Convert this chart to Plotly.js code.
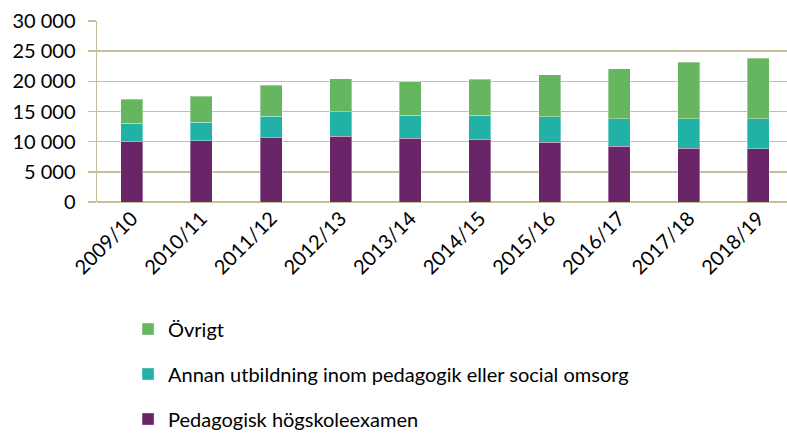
<!DOCTYPE html>
<html>
<head>
<meta charset="utf-8">
<script src="https://cdn.plot.ly/plotly-3.0.1.min.js"></script>
<style>html,body{margin:0;padding:0;background:#fff;}#chart{width:787px;height:436px;}</style>
</head>
<body>
<div id="chart"></div>
<script>
const categories = ["2009/10","2010/11","2011/12","2012/13","2013/14","2014/15","2015/16","2016/17","2017/18","2018/19"];
const pedagogisk = [10060,10180,10720,10940,10560,10280,9900,9280,8950,8790];
const annan = [2980,3080,3530,3980,3860,4140,4190,4480,4810,4970];
const ovrigt = [4030,4260,5140,5540,5540,5920,7030,8290,9400,10060];
const yTicks = [0,5000,10000,15000,20000,25000,30000];
const yTickText = ["0","5 000","10 000","15 000","20 000","25 000","30 000"];

const font = "Lato, 'Noto Sans', sans-serif";
const lineCol = "rgba(255,255,255,0.35)";
function tr(name, y, color, g, rank){
  return {type:"bar", name:name, x:categories, y:y, legendgroup:g, legendrank:rank,
    marker:{color:color, line:{color:lineCol, width:1}}, hoverinfo:"y"};
}
const data = [
  tr("Pedagogisk högskoleexamen", pedagogisk, "#692567", "a", 3),
  tr("Annan utbildning inom pedagogik eller social omsorg", annan, "#22B1A6", "b", 2),
  tr("Övrigt", ovrigt, "#66B660", "c", 1)
];
const layout = {
  width:787, height:436,
  margin:{l:97, r:0, t:21, b:234, autoexpand:false},
  barmode:"stack", bargap:0.684,
  paper_bgcolor:"#fff", plot_bgcolor:"#fff",
  font:{family:font, size:20, color:"#000"},
  xaxis:{type:"category", range:[-0.5,9.41], tickangle:-45, showgrid:false, automargin:false,
    showline:false, ticks:"", tickfont:{family:font, size:20, color:"#000"}},
  yaxis:{range:[0,30000], tickvals:yTicks, ticktext:yTickText, automargin:false,
    showgrid:true, gridcolor:"#C6BF9A", gridwidth:1.5, zeroline:true, zerolinecolor:"#C6BF9A", zerolinewidth:1.5,
    showline:true, linecolor:"#C6BF9A", linewidth:1.5, ticks:"outside", ticklen:8, tickcolor:"#C6BF9A", tickwidth:1.5,
    ticklabelstandoff:8,
    tickfont:{family:font, size:20, color:"#000"}},
  showlegend:true,
  legend:{orientation:"v", x:0.045, xanchor:"left", yref:"container", y:0.29, yanchor:"top",
    traceorder:"grouped", tracegroupgap:16,
    font:{family:font, size:20, color:"#000"}, itemwidth:30}
};
Plotly.newPlot("chart", data, layout, {staticPlot:true});
</script>
</body>
</html>
